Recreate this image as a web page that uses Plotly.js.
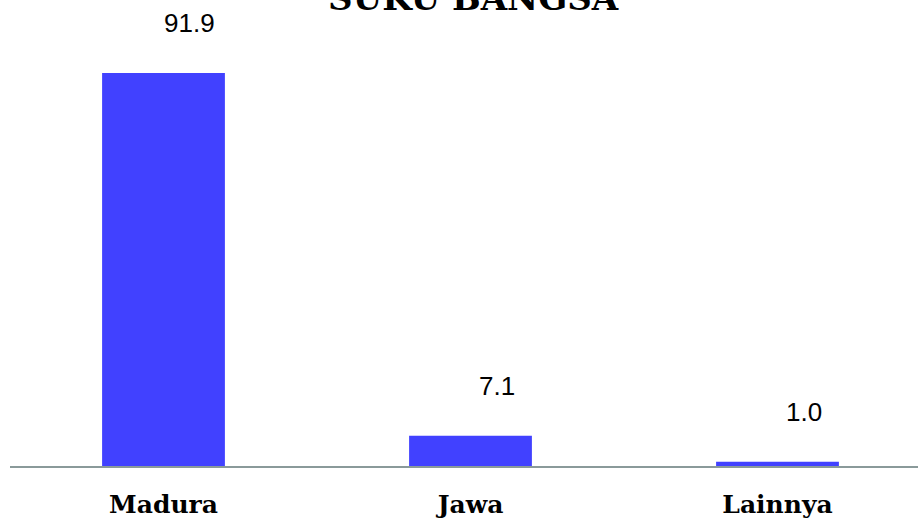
<!DOCTYPE html>
<html>
<head>
<meta charset="utf-8">
<script src="https://cdn.plot.ly/plotly-3.0.1.min.js"></script>
<style>html,body{margin:0;padding:0;background:#fff;}#chart{width:918px;height:524px;}</style>
</head>
<body>
<div id="chart"></div>
<script>
const categories = ["Madura", "Jawa", "Lainnya"];
const values = [91.9, 7.1, 1.0];
const valueLabels = ["91.9", "7.1", "1.0"];
const titleText = "SUKU BANGSA";

const trace = {
  type: "bar",
  x: [0, 1, 2],
  y: values,
  width: 0.4,
  marker: {color: "#4141ff"},
  hoverinfo: "none"
};

const annotations = categories.map((c, i) => ({
  x: i, y: values[i], xref: "x", yref: "y",
  text: valueLabels[i], showarrow: false,
  xanchor: "center", yanchor: "middle",
  xshift: 26, yshift: 50,
  font: {family: "Liberation Sans, Arial, sans-serif", size: 26, color: "#000"}
}));

const layout = {
  width: 918, height: 524,
  margin: {l: 10, r: 0, t: 0, b: 58},
  paper_bgcolor: "#fff", plot_bgcolor: "#fff",
  showlegend: false,
  title: {
    text: "<b>" + titleText + "</b>",
    font: {family: "DejaVu Serif, serif", size: 34, color: "#000"},
    x: 0.51, xref: "paper", xanchor: "center",
    y: 1 - 10/524, yref: "container", yanchor: "bottom"
  },
  xaxis: {
    tickmode: "array", tickvals: [0, 1, 2], ticktext: categories.map(c => "<b>" + c + "</b>"),
    range: [-0.5, -0.5 + 908/307],
    showgrid: false, zeroline: false,
    showline: true, linecolor: "#8a9a9a", linewidth: 2,
    ticks: "outside", ticklen: 15, tickcolor: "rgba(0,0,0,0)",
    tickfont: {family: "DejaVu Serif, serif", size: 25, color: "#000"},
    fixedrange: true
  },
  yaxis: {
    range: [0, 466/4.277],
    visible: false, showgrid: false, zeroline: false, fixedrange: true
  },
  annotations: annotations
};

Plotly.newPlot("chart", [trace], layout, {displayModeBar: false, staticPlot: true});
</script>
</body>
</html>
